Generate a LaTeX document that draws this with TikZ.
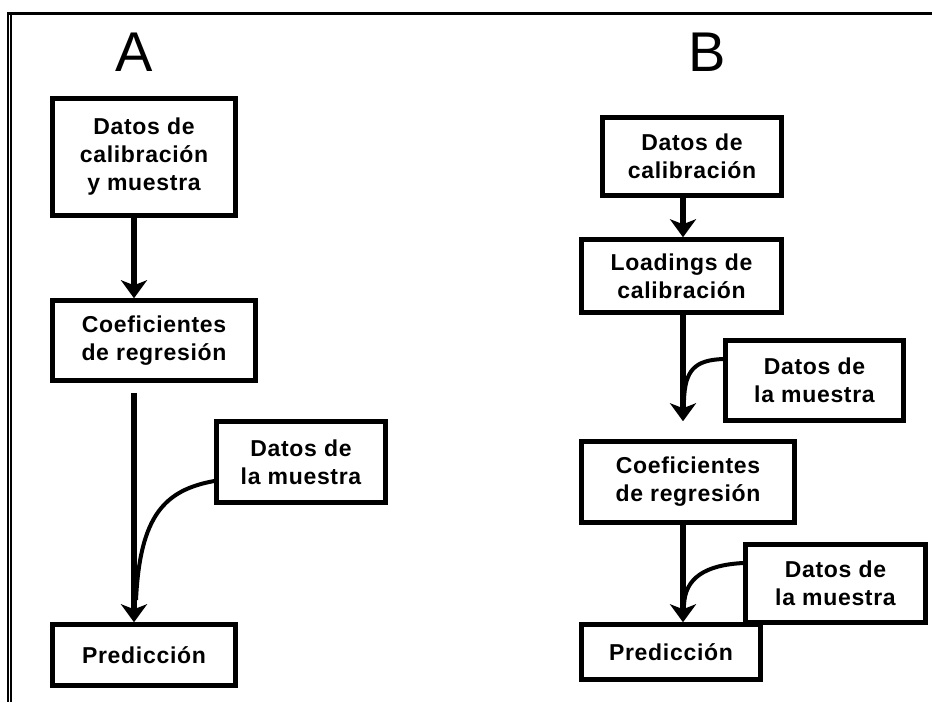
\documentclass[tikz,border=0pt]{standalone}
\usepackage{fontspec}
\setmainfont{Liberation Sans}
\newfontfamily\boxfont{Liberation Sans}[LetterSpace=3]
\usetikzlibrary{arrows.meta}

\begin{document}
\begin{tikzpicture}[x=1pt,y=-1pt,
  box/.style={draw, line width=4.5pt, inner sep=0pt, align=center,
    font=\boxfont\bfseries\fontsize{23}{28}\selectfont},
  flow/.style={line width=6pt, -{Stealth[length=18pt,width=26pt,inset=5pt]}},
  feed/.style={line width=4pt},
  panel/.style={font=\fontsize{56}{56}\selectfont}]

\useasboundingbox (0,0) rectangle (932,702);

% frame: top rule and double rule on the left
\draw[line width=3.3pt] (8,13.3) -- (932,13.3);
\draw[line width=1.7pt] (8.2,12) -- (8.2,702);
\draw[line width=1.7pt] (10.8,13) -- (10.8,702);

% columns the arrows run down
\coordinate (colA) at (134,0);
\coordinate (colB) at (683,0);


% Panel A

\node[panel] (labA) at (134,52) {A};
\node[box, minimum width=183pt, minimum height=117pt] (calA) at (144,157) {Datos de\\calibración\\y muestra};
\node[box, minimum width=203pt, minimum height=80pt] (coefA) at (154,340.5) {Coeficientes\\de regresión};
\node[box, minimum width=169pt, minimum height=81pt] (muesA) at (301,462) {Datos de\\la muestra};
\node[box, minimum width=183pt, minimum height=61pt] (predA) at (144,655) {Predicción};

\draw[flow] (calA.south -| colA) -- (coefA.north -| colA);
\draw[flow, shorten <=10pt] (coefA.south -| colA) -- (predA.north -| colA);
% sample data joins the line
\coordinate (joinA) at (136,600);
\draw[feed] ([yshift=-19pt]muesA.west) .. controls (165,490) and (140,515) .. (joinA);


% Panel B

\node[panel] (labB) at (707,52) {B};
\node[box, minimum width=179pt, minimum height=78pt] (calB) at (692,156.5) {Datos de\\calibración};
\node[box, minimum width=200pt, minimum height=73pt] (loadB) at (681.5,276) {Loadings de\\calibración};
\node[box, minimum width=178pt, minimum height=80pt] (muesB) at (814.5,380.5) {Datos de\\la muestra};
\node[box, minimum width=213pt, minimum height=81pt] (coefB) at (688,482) {Coeficientes\\de regresión};
\node[box, minimum width=180pt, minimum height=78pt] (muesBB) at (835.5,583.5) {Datos de\\la muestra};
\node[box, minimum width=179pt, minimum height=55pt] (predB) at (671,652) {Predicción};

\draw[flow] (calB.south -| colB) -- (loadB.north -| colB);
\draw[flow, shorten >=18pt] (loadB.south -| colB) -- (coefB.north -| colB);
\draw[flow] (coefB.south -| colB) -- (predB.north -| colB);
% sample data joins both lines
\coordinate (joinB) at (684,400);
\coordinate (joinBB) at (684,605);
\draw[feed] ([yshift=21.5pt]muesB.west) .. controls (695,360) and (685,370) .. (joinB);
\draw[feed] ([yshift=20.5pt]muesBB.west) .. controls (705,565) and (685,578) .. (joinBB);

\end{tikzpicture}
\end{document}
